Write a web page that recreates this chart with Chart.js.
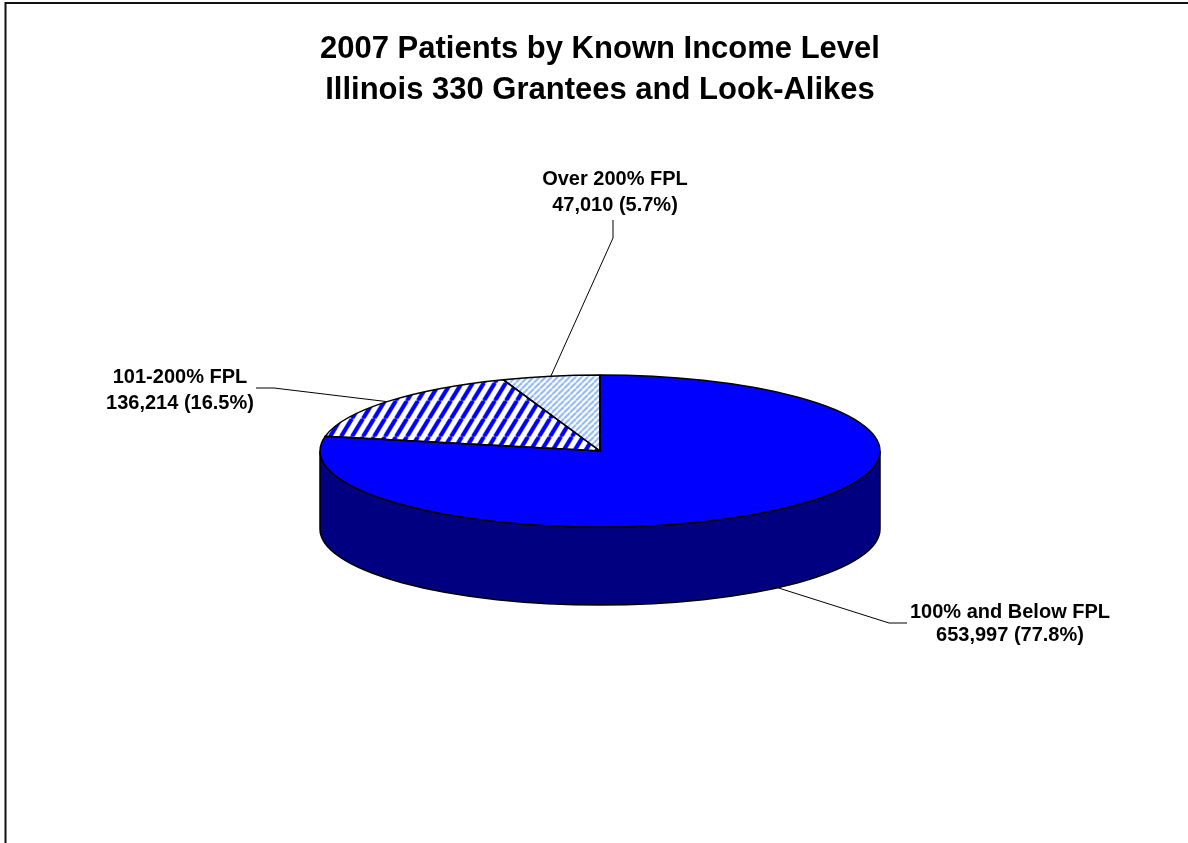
<!DOCTYPE html>
<html>
<head>
<meta charset="utf-8">
<title>2007 Patients by Known Income Level</title>
<script src="https://cdn.jsdelivr.net/npm/chart.js@4.4.1/dist/chart.umd.min.js"></script>
<style>
  html, body { margin: 0; padding: 0; background: #fff; }
  #wrap { position: relative; width: 1188px; height: 843px; }
</style>
</head>
<body>
<div id="wrap"><canvas id="incomeChart" width="1188" height="843"></canvas></div>
<script>
// values
const incomeLevels = ['100% and Below FPL', '101-200% FPL', 'Over 200% FPL'];
const patientCounts = [653997, 136214, 47010];
const percentLabels = ['77.8%', '16.5%', '5.7%'];
const titleLines = ['2007 Patients by Known Income Level', 'Illinois 330 Grantees and Look-Alikes'];

// look of the fake 3d pie
const TILT = 76 / 280;     // height / width of the top face
const DEPTH = 78;          // thickness of the side in px
const FONT = 'Arial, "Liberation Sans", sans-serif';

// where the callout text sits and the first bends of its leader line
const callouts = [
  { x: 1010, y: 618, gap: 23, path: [[907, 623], [889, 623]] },
  { x: 180, y: 383, gap: 26, path: [[256, 388], [274, 388]] },
  { x: 615, y: 185, gap: 26, path: [[613, 220], [613, 238]] }
];

// striped fills, undo the vertical squash so stripes keep their angle
function stripes(w, h, color, width) {
  let tile = document.createElement('canvas');
  tile.width = w;
  tile.height = h;
  let t = tile.getContext('2d');
  t.fillStyle = '#fff';
  t.fillRect(0, 0, w, h);
  t.strokeStyle = color;
  t.lineWidth = width;
  [-w, 0, w].forEach(off => {
    t.beginPath();
    t.moveTo(off, h);
    t.lineTo(off + w, 0);
    t.stroke();
  });
  let pattern = t.createPattern(tile, 'repeat');
  pattern.setTransform(new DOMMatrix([1, 0, 0, 1 / TILT, 0, 0]));
  return pattern;
}

const sliceFills = ['#0000ff', stripes(11, 18, '#0000ff', 4.2), stripes(6, 6, '#8fb6f5', 2)];
const sideFills = ['#000080', '#000080', '#5b7fc0'];

const pie3d = {
  id: 'pie3d',
  beforeDraw(chart) {
    // frame round the picture (top and left only)
    let ctx = chart.ctx;
    ctx.save();
    ctx.strokeStyle = '#111';
    ctx.lineWidth = 2;
    ctx.beginPath();
    ctx.moveTo(5.5, 843);
    ctx.lineTo(5.5, 3);
    ctx.lineTo(1188, 3);
    ctx.stroke();
    ctx.restore();
  },
  beforeDatasetsDraw(chart) {
    let ctx = chart.ctx;
    let arcs = chart.getDatasetMeta(0).data;
    let cx = arcs[0].x, cy = arcs[0].y;

    // the visible side is the front half (angles 0..PI)
    arcs.forEach((arc, i) => {
      let r = arc.outerRadius;
      let a0 = Math.max(arc.startAngle, 0);
      let a1 = Math.min(arc.endAngle, Math.PI);
      if (a1 <= a0) return;
      ctx.save();
      ctx.beginPath();
      ctx.moveTo(cx + r * Math.cos(a0), cy + r * TILT * Math.sin(a0));
      ctx.ellipse(cx, cy, r, r * TILT, 0, a0, a1);
      ctx.lineTo(cx + r * Math.cos(a1), cy + r * TILT * Math.sin(a1) + DEPTH);
      ctx.ellipse(cx, cy + DEPTH, r, r * TILT, 0, a1, a0, true);
      ctx.closePath();
      ctx.fillStyle = sideFills[i];
      ctx.fill();
      ctx.strokeStyle = '#000';
      ctx.lineWidth = 1.5;
      ctx.stroke();
      ctx.restore();
    });

    // squash the top face
    ctx.save();
    ctx.translate(cx, cy);
    ctx.scale(1, TILT);
    ctx.translate(-cx, -cy);
  },
  afterDatasetsDraw(chart) {
    let ctx = chart.ctx;
    ctx.restore();
    let arcs = chart.getDatasetMeta(0).data;

    // outlines of the top face
    arcs.forEach(arc => {
      let {x, y, outerRadius: r, startAngle: s, endAngle: e} = arc;
      ctx.save();
      ctx.beginPath();
      ctx.moveTo(x, y);
      ctx.lineTo(x + r * Math.cos(s), y + r * TILT * Math.sin(s));
      ctx.ellipse(x, y, r, r * TILT, 0, s, e);
      ctx.closePath();
      ctx.strokeStyle = '#000';
      ctx.lineWidth = 1.5;
      ctx.stroke();
      ctx.restore();
    });

    // callouts
    arcs.forEach((arc, i) => {
      let {x, y, outerRadius: r, startAngle: s, endAngle: e} = arc;
      let mid = (s + e) / 2;
      let ax = x + r * Math.cos(mid);
      let ay = y + r * TILT * Math.sin(mid);
      if (Math.sin(mid) > 0) ay += DEPTH;
      let c = callouts[i];

      ctx.save();
      ctx.strokeStyle = '#000';
      ctx.lineWidth = 1;
      ctx.beginPath();
      ctx.moveTo(c.path[0][0], c.path[0][1]);
      c.path.slice(1).forEach(p => ctx.lineTo(p[0], p[1]));
      ctx.lineTo(ax, ay);
      ctx.stroke();

      ctx.fillStyle = '#000';
      ctx.font = 'bold 20px ' + FONT;
      ctx.textAlign = 'center';
      ctx.textBaseline = 'alphabetic';
      ctx.fillText(incomeLevels[i], c.x, c.y);
      ctx.fillText(patientCounts[i].toLocaleString('en-US') + ' (' + percentLabels[i] + ')', c.x, c.y + c.gap);
      ctx.restore();
    });
  }
};

Chart.defaults.font.family = FONT;

new Chart(document.getElementById('incomeChart'), {
  type: 'pie',
  data: {
    labels: incomeLevels,
    datasets: [{
      data: patientCounts,
      backgroundColor: sliceFills,
      borderWidth: 0,
      radius: 280
    }]
  },
  options: {
    responsive: false,
    animation: false,
    events: [],
    layout: { padding: { left: 12, right: 0, top: 0, bottom: 62 } },
    plugins: {
      legend: { display: false },
      tooltip: { enabled: false },
      title: {
        display: true,
        text: titleLines,
        color: '#000',
        font: { size: 31, weight: 'bold', lineHeight: 41 / 31 },
        padding: { top: 29, bottom: 10 }
      }
    }
  },
  plugins: [pie3d]
});
</script>
</body>
</html>
